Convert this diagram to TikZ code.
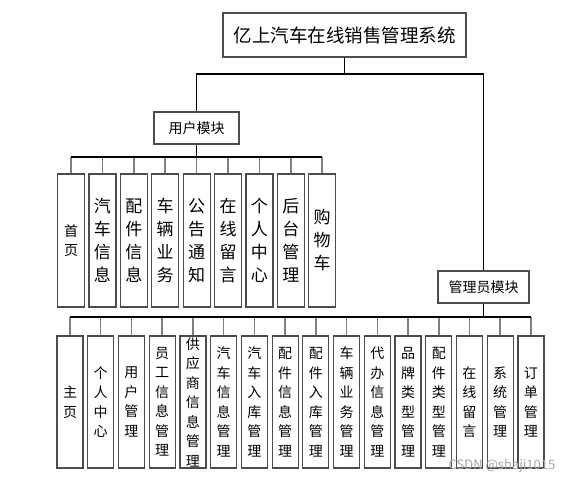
\documentclass[tikz,border=0pt]{standalone}
\usepackage{fontspec}
\newfontfamily\cjk{Noto Sans CJK SC}

\begin{document}
\begin{tikzpicture}[x=1pt,y=-1pt,
  boite/.style={draw=black!70, line width=1.2pt, fill=white, inner sep=0pt},%Cadre des noeuds
  feuille/.style={boite, minimum width=26pt, align=center},%Boites verticales du bas
  petit/.style={font=\cjk\fontsize{14}{19.5}\selectfont},%Texte des petites boites
  trait/.style={black, line width=1.6pt},%Traits principaux
  gris/.style={black!50, line width=1.5pt}]%Petits traits vers les feuilles
  \useasboundingbox (0,0) rectangle (578,483);

  \node[boite, minimum width=243pt, minimum height=44pt, font=\cjk\fontsize{18.5}{22}\selectfont] (titre) at (344.5,35) {亿上汽车在线销售管理系统};
  \node[boite, minimum width=85pt, minimum height=32pt, font=\cjk\fontsize{14}{17}\selectfont] (user) at (196.5,128) {用户模块};
  \node[boite, minimum width=91pt, minimum height=32pt, font=\cjk\fontsize{14}{17}\selectfont] (admin) at (483.5,287) {管理员模块};

  % branches du titre
  \coordinate (t) at (344.5,74);
  \draw[trait] (titre) -- (t);
  \draw[trait] (user.north) |- (t) -| (admin.north);

  % module utilisateur
  \node[feuille, minimum width=27pt, minimum height=133pt, petit] (u1) at (71,240.5) {首\\页};
  \foreach \txt [count=\i from 2] in {汽\\车\\信\\息, 配\\件\\信\\息, 车\\辆\\业\\务, 公\\告\\通\\知, 在\\线\\留\\言, 个\\人\\中\\心, 后\\台\\管\\理, 购\\物\\车}
    \node[feuille, minimum width=27pt, minimum height=133pt, font=\cjk\fontsize{17}{23}\selectfont] (u\i) at ({71+31.4*(\i-1)},240.5) {\txt};
  \coordinate (bu) at (196.5,157);
  \draw[trait] (user) -- (bu);
  \foreach \i in {1,...,9}
    \draw[gris] (u\i.north) -- (u\i.north |- bu);
  \draw[trait] (u1.north |- bu) -- (u9.north |- bu);

  % module administrateur
  \foreach \txt [count=\i] in {主\\页, 个\\人\\中\\心, 用\\户\\管\\理, 员\\工\\信\\息\\管\\理, 供\\应\\商\\信\\息\\管\\理, 汽\\车\\信\\息\\管\\理, 汽\\车\\入\\库\\管\\理, 配\\件\\信\\息\\管\\理, 配\\件\\入\\库\\管\\理, 车\\辆\\业\\务\\管\\理, 代\\办\\信\\息\\管\\理, 品\\牌\\类\\型\\管\\理, 配\\件\\类\\型\\管\\理, 在\\线\\留\\言, 系\\统\\管\\理, 订\\单\\管\\理}
    \node[feuille, minimum height=132pt, petit] (a\i) at ({70+30.73*(\i-1)},402) {\txt};
  \coordinate (ba) at (483.5,317);
  \draw[trait] (admin) -- (ba);
  \foreach \i in {1,...,16}
    \draw[gris] (a\i.north) -- (a\i.north |- ba);
  \draw[trait] (a1.north |- ba) -- (a16.north |- ba);

  \node[text=black!35, font=\cjk\fontsize{13}{15}\selectfont] (marque) at (502,466) {CSDN @shaji1015};
\end{tikzpicture}
\end{document}
